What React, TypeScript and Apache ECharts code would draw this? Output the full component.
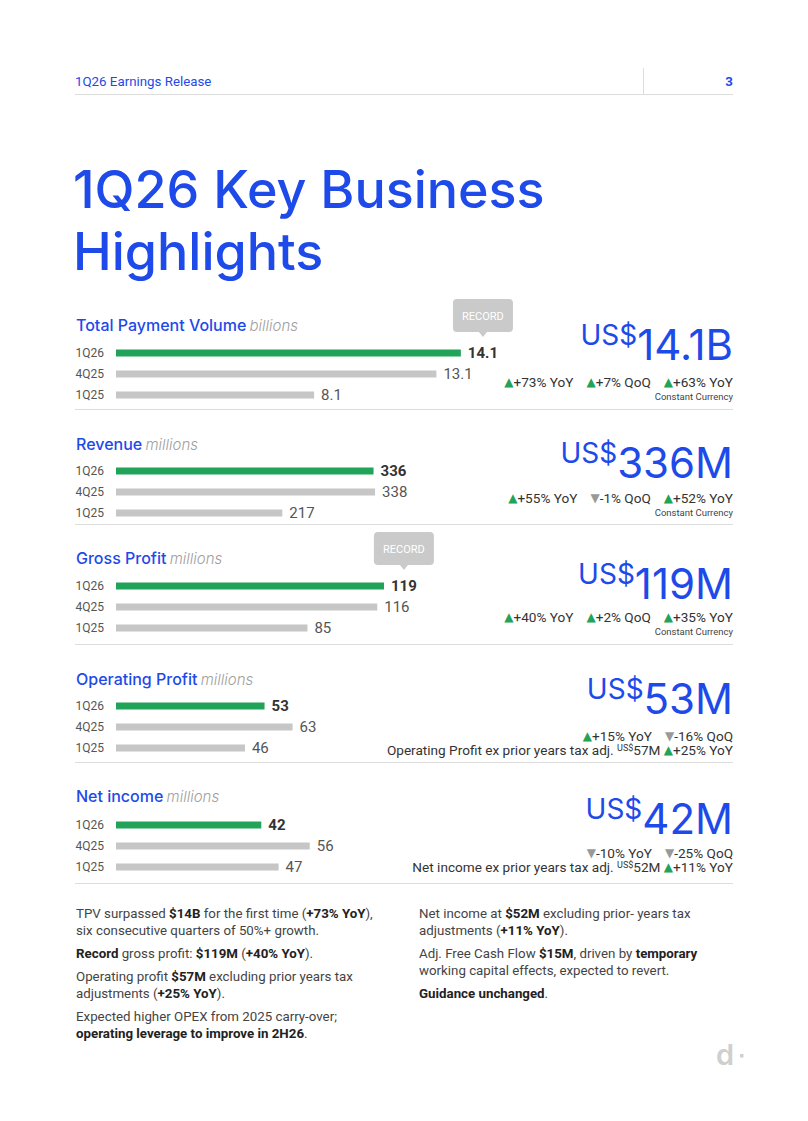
import React, { useEffect, useRef } from 'react';
import * as echarts from 'echarts';

// ---------- DATA ----------
const periods = ['1Q26', '4Q25', '1Q25'];
const tpvValues = [14.1, 13.1, 8.1];
const revenueValues = [336, 338, 217];
const grossProfitValues = [119, 116, 85];
const operatingProfitValues = [53, 63, 46];
const netIncomeValues = [42, 56, 47];

const metricNames = ['Total Payment Volume', 'Revenue', 'Gross Profit', 'Operating Profit', 'Net income'];
const metricUnits = ['billions', 'millions', 'millions', 'millions', 'millions'];
const valueDecimals = [1, 0, 0, 0, 0];
const axisMax = [15.7, 501, 170.5, 137, 111];
const recordFlags = [true, false, true, false, false];
const headlineValues = ['14.1B', '336M', '119M', '53M', '42M'];
const yoyChanges = ['+73%', '+55%', '+40%', '+15%', '-10%'];
const qoqChanges = ['+7%', '-1%', '+2%', '-16%', '-25%'];
const constantCurrencyYoY = ['+63%', '+52%', '+35%', '', ''];
const exTaxLabels = ['', '', '', 'Operating Profit', 'Net income'];
const exTaxValues = ['', '', '', '57M', '52M'];
const exTaxYoY = ['', '', '', '+25%', '+11%'];

const leftNotes = [
  'TPV surpassed **$14B** for the first time (**+73% YoY**),\nsix consecutive quarters of 50%+ growth.',
  '**Record** gross profit: **$119M** (**+40% YoY**).',
  'Operating profit **$57M** excluding prior years tax\nadjustments (**+25% YoY**).',
  'Expected higher OPEX from 2025 carry-over;\n**operating leverage to improve in 2H26**.',
];
const rightNotes = [
  'Net income at **$52M** excluding prior- years tax\nadjustments (**+11% YoY**).',
  'Adj. Free Cash Flow **$15M**, driven by **temporary**\nworking capital effects, expected to revert.',
  '**Guidance unchanged**.',
];

// ---------- STYLE / LAYOUT ----------
const BLUE = '#1E4AE9';
const GREEN = '#22A35A';
const GRAY_BAR = '#C6C6C6';
const LINE = '#DDDDDD';
const titleY = [325, 444, 558, 679, 796];
const barFirstY = [353, 471, 586, 706, 825];
const kpiY = [342, 460, 581, 696, 816];
const changeY = [382, 498, 617, 736, 853];
const sepY = [409, 524, 644, 762, 883];

const measure = (text: string, font: string) => {
  const c = document.createElement('canvas').getContext('2d')!;
  c.font = font;
  return c.measureText(text).width;
};

const toRich = (s: string) =>
  s
    .split('\n')
    .map((line) =>
      line
        .split('**')
        .map((seg, k) => (seg ? `{${k % 2 ? 'b' : 'n'}|${seg}}` : ''))
        .join('')
    )
    .join('\n');

const arrow = (v: string) => (v.startsWith('-') ? '{dn|▼}' : '{up|▲}');

function txt(x: number, y: number, text: string, o: any = {}) {
  const align = o.align || 'left';
  const va = o.verticalAlign || 'middle';
  return {
    type: 'text',
    x,
    y,
    silent: true,
    style: {
      text,
      fill: o.fill || '#333',
      fontSize: o.fontSize || 13,
      fontFamily: o.fontFamily || 'Roboto',
      fontWeight: o.fontWeight || 'normal',
      fontStyle: o.fontStyle || 'normal',
      align,
      textAlign: align,
      verticalAlign: va,
      textVerticalAlign: va,
      rich: o.rich,
    },
  };
}
function hline(x1: number, x2: number, y: number) {
  return { type: 'line', silent: true, shape: { x1, y1: y, x2, y2: y }, style: { stroke: LINE, lineWidth: 1 } };
}

function buildOption() {
  const allValues = [tpvValues, revenueValues, grossProfitValues, operatingProfitValues, netIncomeValues];
  const grids: any[] = [];
  const xAxes: any[] = [];
  const yAxes: any[] = [];
  const series: any[] = [];
  const graphics: any[] = [];

  allValues.forEach((values, i) => {
    grids.push({ left: 116, top: barFirstY[i] - 10.5, width: 384, height: 63 });
    xAxes.push({ type: 'value', gridIndex: i, min: 0, max: axisMax[i], show: false });
    yAxes.push({
      type: 'category',
      gridIndex: i,
      data: periods,
      inverse: true,
      axisLine: { show: false },
      axisTick: { show: false },
      splitLine: { show: false },
      axisLabel: { color: '#555', fontSize: 12, fontFamily: 'Roboto', margin: 12 },
    });
    const firstLabel = values[0].toFixed(valueDecimals[i]);
    const labelW = measure(firstLabel, 'bold 15px Roboto');
    series.push({
      type: 'bar',
      xAxisIndex: i,
      yAxisIndex: i,
      barWidth: 7,
      silent: true,
      data: values.map((v, j) => ({
        value: v,
        itemStyle: { color: j === 0 ? GREEN : GRAY_BAR },
        label: j === 0 ? { fontWeight: 'bold', color: '#333' } : undefined,
      })),
      label: {
        show: true,
        position: 'right',
        distance: 7,
        fontSize: 15,
        fontFamily: 'Roboto',
        color: '#555',
        formatter: (p: any) => Number(p.value).toFixed(valueDecimals[i]),
      },
      markPoint: recordFlags[i]
        ? {
            silent: true,
            symbol:
              'path://M4,0 H56 Q60,0 60,4 V29 Q60,33 56,33 H34 L30,38 L26,33 H4 Q0,33 0,29 V4 Q0,0 4,0 Z',
            symbolSize: [60, 38],
            symbolOffset: [7 + labelW / 2, -35],
            itemStyle: { color: '#CACACA' },
            label: {
              show: true,
              formatter: 'RECORD',
              color: '#fff',
              fontSize: 11,
              fontFamily: 'Roboto',
              offset: [0, -2],
            },
            data: [{ coord: [values[0], periods[0]] }],
          }
        : undefined,
    });

    // section title
    graphics.push(
      txt(76, titleY[i], `{t|${metricNames[i]}} {u|${metricUnits[i]}}`, {
        rich: {
          t: { fontSize: 16, fontFamily: 'Inter', fontWeight: 500, fill: BLUE },
          u: { fontSize: 15, fontFamily: 'Inter', fontStyle: 'italic', fontWeight: 300, fill: '#A0A0A0' },
        },
      })
    );
    // KPI headline
    graphics.push(
      txt(733, kpiY[i] + 2, `{c|US$}{n|${headlineValues[i]}}`, {
        align: 'right',
        rich: {
          c: { fontSize: 28, fontFamily: 'Inter', fill: BLUE, verticalAlign: 'top', lineHeight: 18 },
          n: { fontSize: 42, fontFamily: 'Inter', fill: BLUE, lineHeight: 46 },
        },
      })
    );
    const rich = {
      t: { fontSize: 13.6, fontFamily: 'Roboto', fill: '#333', lineHeight: 13 },
      up: { fontSize: 12, fontFamily: 'DejaVu Sans', fill: GREEN, lineHeight: 13 },
      dn: { fontSize: 12, fontFamily: 'DejaVu Sans', fill: '#999', lineHeight: 13 },
      g: { width: 13, lineHeight: 13 },
      s: { fontSize: 9, fontFamily: 'Roboto', fill: '#333', verticalAlign: 'top', lineHeight: 9 },
    };
    const parts = [
      `${arrow(yoyChanges[i])}{t|${yoyChanges[i]} YoY}`,
      `${arrow(qoqChanges[i])}{t|${qoqChanges[i]} QoQ}`,
    ];
    if (constantCurrencyYoY[i]) parts.push(`${arrow(constantCurrencyYoY[i])}{t|${constantCurrencyYoY[i]} YoY}`);
    graphics.push(txt(733, changeY[i], parts.join('{g| }'), { align: 'right', rich }));
    if (constantCurrencyYoY[i]) {
      graphics.push(txt(733, changeY[i] + 14, 'Constant Currency', { align: 'right', fontSize: 9.5, fill: '#444' }));
    }
    if (exTaxLabels[i]) {
      graphics.push(
        txt(
          733,
          changeY[i] + 14,
          `{t|${exTaxLabels[i]} ex prior years tax adj. }{s|US$}{t|${exTaxValues[i]} }${arrow(exTaxYoY[i])}{t|${exTaxYoY[i]} YoY}`,
          { align: 'right', rich }
        )
      );
    }
    graphics.push(hline(75, 733, sepY[i] + 0.5));
  });

  // header
  graphics.push(txt(75, 81, '1Q26 Earnings Release', { fill: BLUE, fontSize: 13.3 }));
  graphics.push(txt(733, 81, '3', { fill: BLUE, fontSize: 13.3, fontWeight: 'bold', align: 'right' }));
  graphics.push(hline(75, 733, 94.5));
  graphics.push({ type: 'line', silent: true, shape: { x1: 643.5, y1: 68, x2: 643.5, y2: 94 }, style: { stroke: LINE, lineWidth: 1 } });

  // big title
  graphics.push(txt(73, 189, '1Q26 Key Business', { fill: BLUE, fontSize: 52, fontFamily: 'Inter', fontWeight: 500 }));
  graphics.push(txt(73, 251, 'Highlights', { fill: BLUE, fontSize: 52, fontFamily: 'Inter', fontWeight: 500 }));

  // notes
  const noteRich = {
    n: { fontSize: 13.3, fontFamily: 'Roboto', fill: '#444', lineHeight: 17 },
    b: { fontSize: 13.3, fontFamily: 'Roboto', fontWeight: 'bold', fill: '#222', lineHeight: 17 },
  };
  const placeNotes = (notes: string[], x: number) => {
    let y = 913 - 8.5;
    notes.forEach((n) => {
      graphics.push(txt(x, y, toRich(n), { verticalAlign: 'top', rich: noteRich }));
      y += n.split('\n').length * 17 + 6;
    });
  };
  placeNotes(leftNotes, 76);
  placeNotes(rightNotes, 419);

  // logo
  graphics.push(txt(716, 1054, 'd', { fill: '#CFCFCF', fontSize: 29, fontFamily: 'Inter', fontWeight: 600 }));
  graphics.push({ type: 'rect', silent: true, shape: { x: 740, y: 1054, width: 3.5, height: 3.5 }, style: { fill: '#CFCFCF' } });

  return {
    animation: false,
    backgroundColor: '#fff',
    grid: grids,
    xAxis: xAxes,
    yAxis: yAxes,
    series,
    graphic: { elements: graphics },
  };
}

export default function App() {
  const ref = useRef<HTMLDivElement>(null);
  useEffect(() => {
    document.body.style.margin = '0';
    const chart = echarts.init(ref.current!, null, { renderer: 'svg' });
    chart.setOption(buildOption() as any);
    return () => chart.dispose();
  }, []);
  return (
    <div
      ref={ref}
      style={{ position: 'absolute', left: 0, top: 0, width: 808, height: 1121, background: '#fff' }}
    />
  );
}
